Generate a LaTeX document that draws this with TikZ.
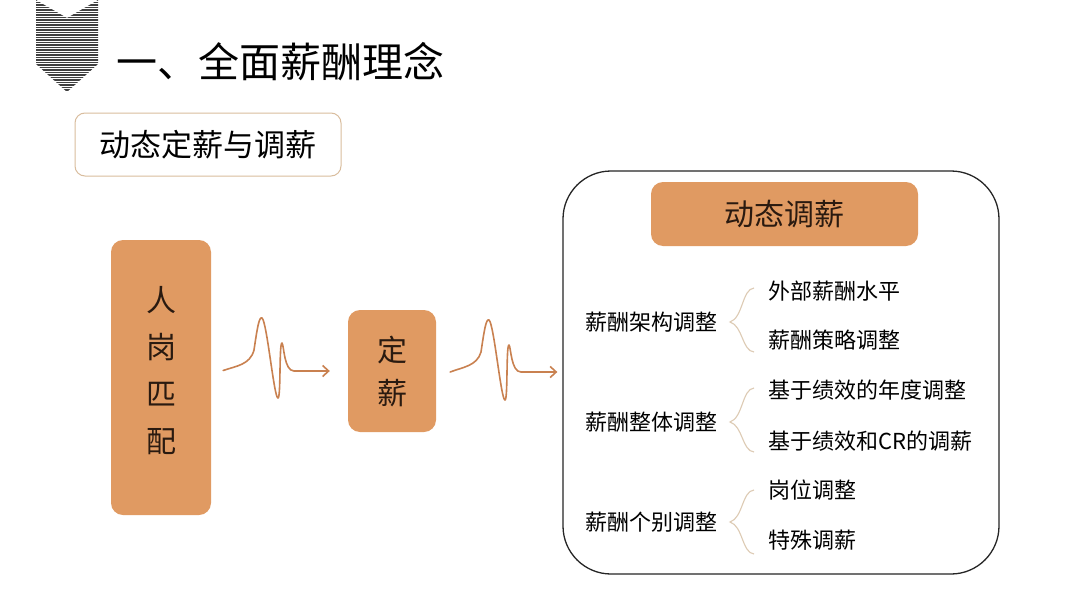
\documentclass[tikz,border=0pt]{standalone}
\usepackage{fontspec}
\setmainfont{Noto Sans CJK SC}
\usetikzlibrary{arrows.meta,calc}
\definecolor{boxorange}{HTML}{E09A62}
\definecolor{wavecol}{HTML}{C98150}
\definecolor{tanline}{HTML}{D9BD9E}
\definecolor{bracecol}{HTML}{DDCBB4}
\definecolor{darktext}{HTML}{2A1A10}
\begin{document}
\begin{tikzpicture}[x=1pt,y=-1pt,
  orangebox/.style={fill=boxorange, draw=none, rounded corners=12pt, inner sep=0pt},
  wave/.style={draw=wavecol, line width=1.6pt, line cap=round, line join=round, -{Straight Barb[length=6pt,width=11pt]}},
  bracestyle/.style={draw=bracecol, line width=1.1pt},
  item/.style={font=\fontsize{22}{25}\selectfont, anchor=west, inner sep=0pt, text=black},
  grouplabel/.style={font=\fontsize{22}{25}\selectfont, anchor=west, inner sep=0pt, text=black}]
\useasboundingbox (0,0) rectangle (1080,608);
\fill[white] (0,0) rectangle (1080,608);

% chevron icon
\begin{scope}
\clip (36,0) -- (67,18) -- (98,0) -- (98,64) -- (67,92) -- (36,64) -- cycle;
\foreach \yy in {0,2.5,...,93} {
  \draw[line width=1.3pt, draw=black!75] (34,\yy) -- (100,\yy);
}
\end{scope}

% title
\node[anchor=west, inner sep=0pt, font=\fontsize{41}{45}\selectfont] (title) at (116,62) {一、全面薪酬理念};

% subtitle box
\node[draw=tanline, line width=1pt, rounded corners=10pt, minimum width=266pt, minimum height=63pt, inner sep=0pt,
      font=\fontsize{31}{34}\selectfont] (sub) at (208,144.5) {动态定薪与调薪};

% person-post match
\node[orangebox, minimum width=100pt, minimum height=275pt] (hp) at (161,377.5) {};
\node[align=center, inner sep=0pt, text=darktext, font=\fontsize{30}{47}\selectfont] (hptext) at (161,371) {人\\岗\\匹\\配};

% set salary
\node[orangebox, minimum width=88pt, minimum height=122pt] (dx) at (392,371) {};
\node[align=center, inner sep=0pt, text=darktext, font=\fontsize{30}{43}\selectfont] (dxtext) at (392,372) {定\\薪};

% big box
\node[draw=black!85, line width=1.3pt, rounded corners=48pt, minimum width=436pt, minimum height=403pt, inner sep=0pt] (big) at (781,372.5) {};
\node[orangebox, minimum width=267pt, minimum height=64pt, text=darktext, font=\fontsize{30}{34}\selectfont] (dt) at (784.5,214) {动态调薪};

% waves
\coordinate (w1s) at ($(hp.east)+(12,-7)$);
\coordinate (w1e) at ($(dx.west)+(-18,0)$);
\coordinate (w2s) at ($(dx.east)+(14,1)$);
\coordinate (w2e) at ($(big.west)+(-5,-0.5)$);
\draw[wave] (w1s) .. controls (236,366) and (250,365) .. (254,350)
  .. controls (257,330) and (259,316) .. (262,318)
  .. controls (267,322) and (274,398) .. (278,398)
  .. controls (281,398) and (279,343) .. (282,343)
  .. controls (284,345) and (284,371) .. (294,371)
  -- (w1e);
\draw[wave] (w2s) .. controls (463,367) and (477,366) .. (481,352)
  .. controls (484,332) and (486,318) .. (489,320)
  .. controls (494,324) and (501,400) .. (505,400)
  .. controls (508,400) and (506,345) .. (509,345)
  .. controls (511,347) and (511,372) .. (521,372)
  -- (w2e);

% group labels
\node[grouplabel] (g1) at (585,322) {薪酬架构调整};
\node[grouplabel] (g2) at (585,422) {薪酬整体调整};
\node[grouplabel] (g3) at (585,522) {薪酬个别调整};

% items
\node[item] (i1) at (768,291) {外部薪酬水平};
\node[item] (i2) at (768,340) {薪酬策略调整};
\node[item] (i3) at (768,390) {基于绩效的年度调整};
\node[item] (i4) at (768,441) {基于绩效和CR的调薪};
\node[item] (i5) at (768,490) {岗位调整};
\node[item] (i6) at (768,540) {特殊调薪};

% braces
\foreach \t/\b/\m in {288/352/322, 388/452/422, 490/554/522} {
  \draw[bracestyle] (754,\t) .. controls (742,\t+1) and (743,\m-4) .. (730,\m)
     .. controls (743,\m+4) and (742,\b-1) .. (754,\b);
}
\end{tikzpicture}
\end{document}
